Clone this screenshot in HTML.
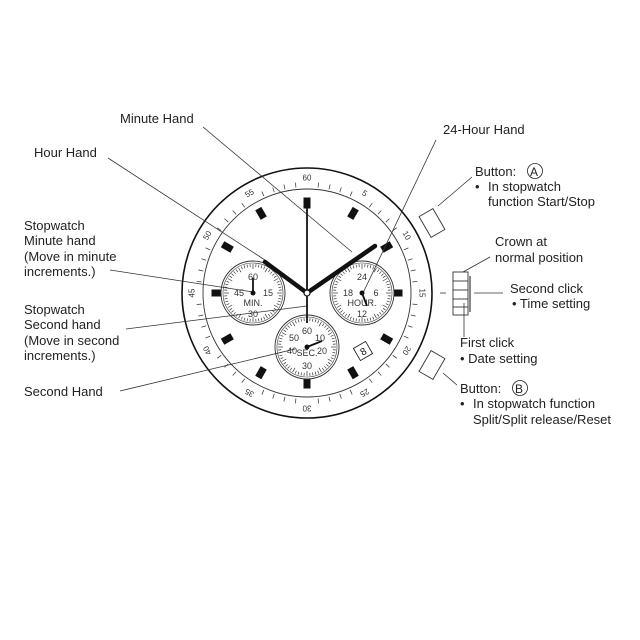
<!DOCTYPE html>
<html><head><style>
body{margin:0;background:#fff;}
svg{display:block;font-family:"Liberation Sans",sans-serif;}
</style></head><body>
<svg width="640" height="640" viewBox="0 0 640 640" id="s">
<g font-size="13" fill="#222">
<text x="120" y="123">Minute Hand</text>
<text x="34" y="157">Hour Hand</text>
<text x="24" y="230">Stopwatch</text>
<text x="24" y="245">Minute hand</text>
<text x="24" y="261">(Move in minute</text>
<text x="24" y="276">increments.)</text>
<text x="24" y="314">Stopwatch</text>
<text x="24" y="329">Second hand</text>
<text x="24" y="345">(Move in second</text>
<text x="24" y="360">increments.)</text>
<text x="24" y="396">Second Hand</text>
<text x="443" y="134">24-Hour Hand</text>
<text x="475" y="176">Button:</text>
<circle cx="535" cy="171" r="7.5" fill="none" stroke="#222" stroke-width="0.8"/>
<text x="530" y="176" font-size="12">A</text>
<text x="475" y="191">•</text><text x="488" y="191">In stopwatch</text>
<text x="488" y="206">function Start/Stop</text>
<text x="495" y="246">Crown at</text>
<text x="495" y="262">normal position</text>
<text x="510" y="293">Second click</text>
<text x="512" y="308">• Time setting</text>
<text x="460" y="347">First click</text>
<text x="460" y="363">• Date setting</text>
<text x="460" y="393">Button:</text>
<circle cx="520" cy="388" r="7.5" fill="none" stroke="#222" stroke-width="0.8"/>
<text x="515" y="393" font-size="12">B</text>
<text x="460" y="408">•</text><text x="473" y="408">In stopwatch function</text>
<text x="473" y="424">Split/Split release/Reset</text>
</g>
<!-- buttons -->
<g stroke="#333" stroke-width="0.9" fill="#fff">
<rect x="424" y="211" width="16" height="24" transform="rotate(-30 432 223)"/>
<rect x="424" y="353" width="16" height="24" transform="rotate(30 432 365)"/>
<rect x="453" y="272" width="15" height="43"/>
<line x1="453" y1="281" x2="468" y2="281"/><line x1="453" y1="290" x2="468" y2="290"/>
<line x1="453" y1="299" x2="468" y2="299"/><line x1="453" y1="307" x2="468" y2="307"/>
<line x1="470" y1="276" x2="470" y2="312" stroke="#888" stroke-width="2"/>
</g>
<!-- watch -->
<g id="w">
<circle cx="307" cy="293" r="125" fill="#fff" stroke="#111" stroke-width="1.6"/>
<circle cx="307" cy="293" r="104" fill="none" stroke="#333" stroke-width="0.9"/>
</g>
<g id="lines" stroke="#333" stroke-width="0.8" fill="none">
<line x1="203" y1="127" x2="352" y2="252"/>
<line x1="108" y1="158" x2="268" y2="262"/>
<line x1="110" y1="270" x2="253" y2="292"/>
<line x1="126" y1="329" x2="307" y2="306"/>
<line x1="120" y1="391" x2="295" y2="349"/>
<line x1="436" y1="140" x2="363" y2="293"/>
<line x1="472" y1="177" x2="438" y2="206"/>
<line x1="490" y1="257" x2="463" y2="272"/>
<line x1="474" y1="293" x2="503" y2="293"/>
<line x1="464" y1="303" x2="464" y2="337"/>
<line x1="443" y1="373" x2="457" y2="385"/>
<line x1="440" y1="293" x2="446" y2="293"/>
</g>
<g id="hands"></g>
</svg>
<script>
(function(){
var s=document.getElementById('s'),N='http://www.w3.org/2000/svg';
var cx=307,cy=293;
function el(t,a,p){var e=document.createElementNS(N,t);for(var k in a)e.setAttribute(k,a[k]);(p||s).appendChild(e);return e;}
var w=document.getElementById('w'),H=document.getElementById('hands');
for(var i=0;i<60;i++){var a=i*6*Math.PI/180;
 if(i%5==0){var rr=115,x=cx+rr*Math.sin(a),y=cy-rr*Math.cos(a);
  var t=el('text',{x:x,y:y+2.5,'font-size':8,'text-anchor':'middle',fill:'#333',transform:'rotate('+(i*6)+' '+x+' '+y+')'},w);t.textContent=i==0?60:i;}
 else{el('line',{x1:cx+106*Math.sin(a),y1:cy-106*Math.cos(a),x2:cx+111*Math.sin(a),y2:cy-111*Math.cos(a),stroke:'#444','stroke-width':0.8},w);}
}
for(var h=0;h<12;h++){var a=h*30,r=h%3==0?90:92;
 var x=cx+r*Math.sin(a*Math.PI/180),y=cy-r*Math.cos(a*Math.PI/180);
 el('rect',{x:x-3.5,y:y-5.5,width:7,height:11,fill:'#111',transform:'rotate('+a+' '+x+' '+y+')'},w);}
function sub(x,y,labels){
 el('circle',{cx:x,cy:y,r:32,fill:'#fff',stroke:'#333','stroke-width':0.9},w);
 el('circle',{cx:x,cy:y,r:30,fill:'none',stroke:'#333','stroke-width':0.6},w);
 for(var i=0;i<60;i++){var a=i*6*Math.PI/180,l=i%5==0?5:3;
  el('line',{x1:x+29*Math.sin(a),y1:y-29*Math.cos(a),x2:x+(29-l)*Math.sin(a),y2:y-(29-l)*Math.cos(a),stroke:'#333','stroke-width':0.7},w);}
 labels.forEach(function(L){var t=el('text',{x:x+L[1],y:y+L[2],'font-size':9,'text-anchor':'middle',fill:'#333'},w);t.textContent=L[0];});
}
sub(253,293,[['60',0,-13],['15',15,3],['30',0,24],['45',-14,3],['MIN.',0,13]]);
sub(362,293,[['24',0,-13],['6',14,3],['12',0,24],['18',-14,3],['HOUR.',0,13]]);
sub(307,347,[['60',0,-13],['10',13,-6],['20',15,7],['30',0,22],['40',-15,7],['50',-13,-6],['SEC.',0,9]]);
el('rect',{x:356,y:344,width:14,height:14,fill:'#fff',stroke:'#222','stroke-width':0.9,transform:'rotate(-30 363 351)'},w);
var d=el('text',{x:363,y:355,'font-size':10,'text-anchor':'middle',fill:'#111',transform:'rotate(-30 363 351)'},w);d.textContent='8';
el('line',{x1:253,y1:293,x2:253,y2:278,stroke:'#111','stroke-width':1.8},H);el('circle',{cx:253,cy:293,r:2.5,fill:'#111'},H);
el('line',{x1:362,y1:293,x2:367,y2:306,stroke:'#111','stroke-width':1.8},H);el('circle',{cx:362,cy:293,r:2.5,fill:'#111'},H);
el('line',{x1:307,y1:347,x2:322,y2:341,stroke:'#111','stroke-width':1.8},H);el('circle',{cx:307,cy:347,r:2.5,fill:'#111'},H);
el('line',{x1:cx,y1:cy,x2:265,y2:262,stroke:'#111','stroke-width':4.5,'stroke-linecap':'round'},H);
el('line',{x1:cx,y1:cy,x2:375,y2:246,stroke:'#111','stroke-width':4.5,'stroke-linecap':'round'},H);
el('line',{x1:cx,y1:203,x2:cx,y2:323,stroke:'#111','stroke-width':1.8},H);
el('circle',{cx:cx,cy:cy,r:3,fill:'#fff',stroke:'#111','stroke-width':1.2},H);
})();
</script>
</body></html>
